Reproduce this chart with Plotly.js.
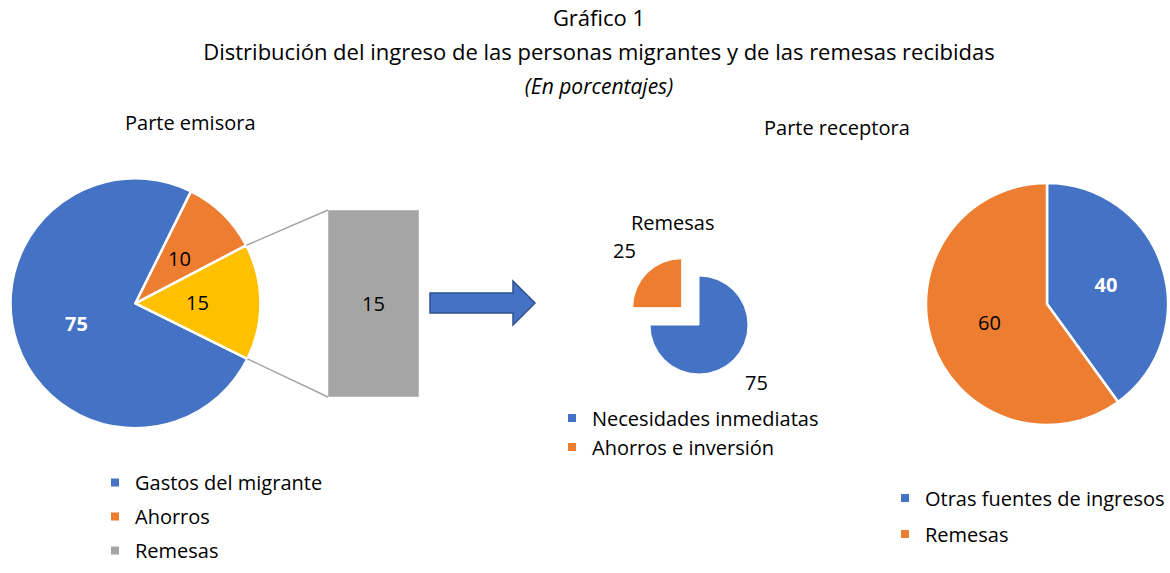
<!DOCTYPE html>
<html><head><meta charset="utf-8">
<script src="https://cdn.plot.ly/plotly-3.0.1.min.js"></script>
<style>html,body{margin:0;padding:0;background:#fff}</style>
</head><body>
<div id="chart" style="width:1170px;height:573px"></div>
<script>
// ---------- data ----------
const emisoraLabels = ['Gastos del migrante', 'Ahorros', 'Remesas'];
const emisoraValues = [75, 10, 15];
const barCategory = ['Remesas'];
const barValues = [15];
const remesasLabels = ['Necesidades inmediatas', 'Ahorros e inversión'];
const remesasValues = [75, 25];
const receptoraLabels = ['Otras fuentes de ingresos', 'Remesas'];
const receptoraValues = [40, 60];

// ---------- style ----------
const W = 1170, H = 573;
const FONT = 'Open Sans, Noto Sans, sans-serif';
const BLUE = '#4472C4', ORANGE = '#ED7D31', YELLOW = '#FFC000', GRAY = '#A5A5A5';
const px = v => v / W;
const py = v => 1 - v / H;

// pie boxes in pixels
const leftPie = {cx: 135.5, cy: 303.3, r: 125, rotation: 116.4};
const rightPie = {cx: 1047, cy: 304, r: 121, rotation: 0};
const midPie = {cx: 699, cy: 325, r: 49, rotation: 0};
const midPull = [0, 0.5];
const barBox = {x0: 328, x1: 419, y0: 210, y1: 397};

function dom(p, pull) {
  const h = p.r * (1 + (pull || 0));
  return {x: [px(p.cx - h), px(p.cx + h)], y: [py(p.cy + h), py(p.cy - h)]};
}

const pieCommon = {
  type: 'pie', sort: false, direction: 'clockwise', hoverinfo: 'none',
  showlegend: false, insidetextorientation: 'horizontal'
};

const traces = [
  Object.assign({}, pieCommon, {
    labels: emisoraLabels, values: emisoraValues,
    rotation: leftPie.rotation, domain: dom(leftPie),
    marker: {colors: [BLUE, ORANGE, YELLOW], line: {color: '#FFFFFF', width: 2.5}},
    textinfo: 'none'
  }),
  {
    type: 'bar', x: barCategory, y: barValues, xaxis: 'x2', yaxis: 'y2',
    width: 1, showlegend: false, hoverinfo: 'none',
    marker: {color: GRAY, line: {color: '#D0D0D0', width: 1}},
    text: barValues, textposition: 'inside', insidetextanchor: 'middle',
    textangle: 0, textfont: {family: FONT, size: 20, color: '#000000'}
  },
  Object.assign({}, pieCommon, {
    labels: remesasLabels, values: remesasValues, pull: midPull,
    rotation: midPie.rotation, domain: dom(midPie, Math.max(...midPull)),
    marker: {colors: [BLUE, ORANGE], line: {color: '#FFFFFF', width: 1}},
    textinfo: 'none'
  }),
  Object.assign({}, pieCommon, {
    labels: receptoraLabels, values: receptoraValues,
    rotation: rightPie.rotation, domain: dom(rightPie),
    marker: {colors: [BLUE, ORANGE], line: {color: '#FFFFFF', width: 2.5}},
    textposition: 'inside',
    texttemplate: ['<b>%{value}</b>', '%{value}'],
    textfont: {family: FONT, size: 20, color: ['#FFFFFF', '#000000']}
  })
];

// legend entries (square markers) built from the label arrays
function legendTraces(labels, colors, legendId) {
  return labels.map((lab, i) => ({
    type: 'scatter', mode: 'markers', x: [null], y: [null],
    xaxis: 'x3', yaxis: 'y3', name: lab, legend: legendId,
    legendgroup: legendId + '_' + i, hoverinfo: 'none',
    marker: {symbol: 'square', size: 8, color: colors[i]}
  }));
}
traces.push(...legendTraces(emisoraLabels, [BLUE, ORANGE, GRAY], 'legend'));
traces.push(...legendTraces(remesasLabels, [BLUE, ORANGE], 'legend2'));
traces.push(...legendTraces(receptoraLabels, [BLUE, ORANGE], 'legend3'));

// slice label positions derived from the values (angle from 12 o'clock, clockwise)
const rad = d => d * Math.PI / 180;
const onPie = (p, a, f, ox, oy) => [(ox || p.cx) + f * p.r * Math.sin(rad(a)), (oy || p.cy) - f * p.r * Math.cos(rad(a))];
function sliceLabels(p, values, pulls, frac, styles) {
  const total = values.reduce((a, b) => a + b, 0);
  let acc = p.rotation;
  return values.map((v, i) => {
    const mid = acc + 180 * v / total;
    acc += 360 * v / total;
    const apex = onPie(p, mid, pulls ? pulls[i] : 0);
    const pos = onPie(p, mid, frac, apex[0], apex[1]);
    const st = styles[i];
    return {
      text: st.bold ? '<b>' + v + '</b>' : String(v),
      x: px(pos[0]), y: py(pos[1]), xref: 'paper', yref: 'paper', showarrow: false,
      xanchor: 'center', yanchor: 'middle',
      font: {family: FONT, size: 20, color: st.color}
    };
  });
}
const leftLabels = sliceLabels(leftPie, emisoraValues, null, 0.5,
  [{bold: true, color: '#FFFFFF'}, {color: '#000000'}, {color: '#000000'}]);
const midLabels = sliceLabels(midPie, remesasValues, midPull, 1.65,
  [{color: '#000000'}, {color: '#000000'}]);

// connector lines from the last slice edges to the bar corners
const emTotal = emisoraValues.reduce((a, b) => a + b, 0);
const e1 = onPie(leftPie, leftPie.rotation + 360 * (emisoraValues[0] + emisoraValues[1]) / emTotal, 1);
const e2 = onPie(leftPie, leftPie.rotation + 360, 1);

const arrowPts = [[430, 293], [513, 293], [513, 281], [535, 303], [513, 325], [513, 313], [430, 313]];
const arrowPath = 'M' + arrowPts.map(p => px(p[0]) + ',' + py(p[1])).join(' L') + ' Z';

const legendBase = {
  xanchor: 'left', yanchor: 'top', bgcolor: 'rgba(0,0,0,0)',
  font: {family: FONT, size: 20, color: '#000000'}, itemwidth: 30
};

const layout = {
  width: W, height: H,
  margin: {l: 0, r: 0, t: 0, b: 0},
  paper_bgcolor: '#FFFFFF', plot_bgcolor: '#FFFFFF',
  font: {family: FONT, color: '#000000'},
  title: {
    text: '<span style="font-size:22px">Gráfico 1</span><br>' +
          '<span style="font-size:22px">Distribución del ingreso de las personas migrantes y de las remesas recibidas</span><br>' +
          '<span style="font-size:21px"><i>(En porcentajes)</i></span>',
    x: px(599), xanchor: 'center', xref: 'paper', yref: 'container',
    y: 1 - 26 / H, yanchor: 'top',
    font: {family: FONT, size: 26, color: '#000000'}
  },
  xaxis2: {domain: [px(barBox.x0), px(barBox.x1)], range: [-0.5, 0.5], visible: false, fixedrange: true},
  yaxis2: {domain: [py(barBox.y1), py(barBox.y0)], range: [0, barValues[0]], visible: false, fixedrange: true},
  xaxis3: {domain: [0, 0.01], visible: false},
  yaxis3: {domain: [0, 0.01], visible: false},
  legend: Object.assign({}, legendBase, {x: px(95), y: py(463), tracegroupgap: 5}),
  legend2: Object.assign({}, legendBase, {x: px(552), y: py(398.5), tracegroupgap: 0}),
  legend3: Object.assign({}, legendBase, {x: px(885), y: py(478.5), tracegroupgap: 7}),
  shapes: [
    {type: 'line', xref: 'paper', yref: 'paper', x0: px(e1[0]), y0: py(e1[1]), x1: px(barBox.x0), y1: py(barBox.y0),
     line: {color: GRAY, width: 1.5}},
    {type: 'line', xref: 'paper', yref: 'paper', x0: px(e2[0]), y0: py(e2[1]), x1: px(barBox.x0), y1: py(barBox.y1),
     line: {color: GRAY, width: 1.5}},
    {type: 'path', xref: 'paper', yref: 'paper', path: arrowPath,
     fillcolor: BLUE, line: {color: '#2F528F', width: 1.5}}
  ],
  annotations: [
    {text: 'Parte emisora', x: px(190), y: py(123), xref: 'paper', yref: 'paper', showarrow: false,
     xanchor: 'center', yanchor: 'middle', font: {family: FONT, size: 20}},
    {text: 'Parte receptora', x: px(837), y: py(127), xref: 'paper', yref: 'paper', showarrow: false,
     xanchor: 'center', yanchor: 'middle', font: {family: FONT, size: 20}},
    {text: 'Remesas', x: px(673), y: py(222), xref: 'paper', yref: 'paper', showarrow: false,
     xanchor: 'center', yanchor: 'middle', font: {family: FONT, size: 20}}
  ].concat(leftLabels, midLabels)
};

Plotly.newPlot('chart', traces, layout, {displayModeBar: false, staticPlot: true});
</script>
</body></html>
